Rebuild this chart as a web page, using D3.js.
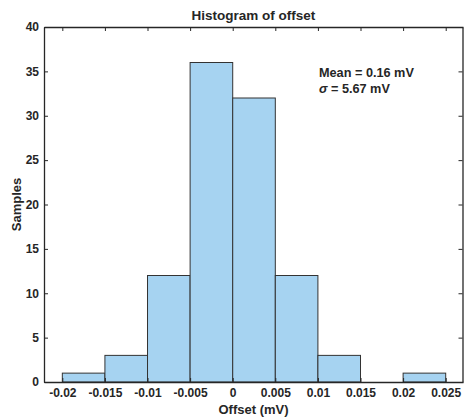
<!DOCTYPE html>
<head>
  <meta charset="utf-8">
  <script src="https://d3js.org/d3.v7.min.js"></script>
  <style>
    body { margin:0; background:#fff; }
    text { font-family: "Liberation Sans", Arial, sans-serif; fill:#262626; }
  </style>
</head>
<body>
<script>

/* Data */
/* ==== */

var binEdges = [-0.02, -0.015, -0.01, -0.005, 0, 0.005, 0.01, 0.015, 0.02, 0.025];
var counts = [1, 3, 12, 36, 32, 12, 3, 0, 1];
var xTicks = [-0.02, -0.015, -0.01, -0.005, 0, 0.005, 0.01, 0.015, 0.02, 0.025];
var xTickLabels = ['-0.02', '-0.015', '-0.01', '-0.005', '0', '0.005', '0.01', '0.015', '0.02', '0.025'];
var yTicks = [0, 5, 10, 15, 20, 25, 30, 35, 40];
var statsText = ["Mean = 0.16 mV", "= 5.67 mV"];

/* Set up */
/* ====== */

var width = 464, height = 418;
var margin = { top: 27, right: 1, bottom: 36, left: 44 };
var axisColor = '#262626';

var svg = d3.select('body')
  .append('svg')
    .attr('width', width)
    .attr('height', height);

var x = d3.scaleLinear()
    .domain([-0.02215, 0.02703])
    .range([margin.left, width - margin.right]);

var y = d3.scaleLinear()
    .domain([0, 40])
    .range([height - margin.bottom, margin.top]);

var bins = counts.map(function(c, i) {
  return { x0: binEdges[i], x1: binEdges[i + 1], n: c };
});

// bars
svg.selectAll('rect.bar')
    .data(bins)
    .enter()
  .append('rect')
    .attr('class', 'bar')
    .attr('x', function(d) { return x(d.x0); })
    .attr('y', function(d) { return y(d.n); })
    .attr('width', function(d) { return x(d.x1) - x(d.x0); })
    .attr('height', function(d) { return y(0) - y(d.n); })
    .attr('fill', '#a6d3f1')
    .attr('stroke', '#333')
    .attr('stroke-width', 1);

// axes, ticks pointing inward, box all round
var fmt = function(d, i) { return xTickLabels[i]; };

var xBottom = svg.append('g')
    .attr('transform', 'translate(0,' + y(0) + ')')
    .call(d3.axisBottom(x).tickValues(xTicks).tickSizeInner(-4).tickSizeOuter(0).tickPadding(6).tickFormat(fmt));
var xTop = svg.append('g')
    .attr('transform', 'translate(0,' + y(40) + ')')
    .call(d3.axisTop(x).tickValues(xTicks).tickSizeInner(-4).tickSizeOuter(0).tickFormat(''));
var yLeft = svg.append('g')
    .attr('transform', 'translate(' + x.range()[0] + ',0)')
    .call(d3.axisLeft(y).tickValues(yTicks).tickSizeInner(-4).tickSizeOuter(0).tickPadding(5));
var yRight = svg.append('g')
    .attr('transform', 'translate(' + (x.range()[1] - 0.5) + ',0)')
    .call(d3.axisRight(y).tickValues(yTicks).tickSizeInner(-4).tickSizeOuter(0).tickFormat(''));

[xBottom, xTop, yLeft, yRight].forEach(function(g) {
  g.selectAll('path.domain').attr('stroke', axisColor).attr('stroke-width', 1.3);
  g.selectAll('line').attr('stroke', axisColor).attr('stroke-width', 1);
  g.selectAll('text')
    .attr('fill', axisColor)
    .style('font-size', '12px')
    .style('font-weight', 'bold')
    .style('font-family', '"Liberation Sans", Arial, sans-serif');
});

// title and labels
svg.append('text')
    .attr('x', (x.range()[0] + x.range()[1]) / 2)
    .attr('y', 20)
    .attr('text-anchor', 'middle')
    .style('font-size', '13.5px')
    .style('font-weight', 'bold')
    .text('Histogram of offset');

svg.append('text')
    .attr('x', (x.range()[0] + x.range()[1]) / 2)
    .attr('y', 414)
    .attr('text-anchor', 'middle')
    .style('font-size', '13px')
    .style('font-weight', 'bold')
    .text('Offset (mV)');

svg.append('text')
    .attr('transform', 'translate(21,' + ((y(0) + y(40)) / 2) + ') rotate(-90)')
    .attr('text-anchor', 'middle')
    .style('font-size', '13px')
    .style('font-weight', 'bold')
    .text('Samples');

// stats annotation
svg.append('text')
    .attr('x', 319)
    .attr('y', 77)
    .style('font-size', '12.7px')
    .style('font-weight', 'bold')
    .text(statsText[0]);

var sig = svg.append('text')
    .attr('x', 319)
    .attr('y', 93)
    .style('font-size', '12.7px')
    .style('font-weight', 'bold');
sig.append('tspan').style('font-style', 'italic').text('\u03c3');
sig.append('tspan').text(' ' + statsText[1]);

</script>
</body>
